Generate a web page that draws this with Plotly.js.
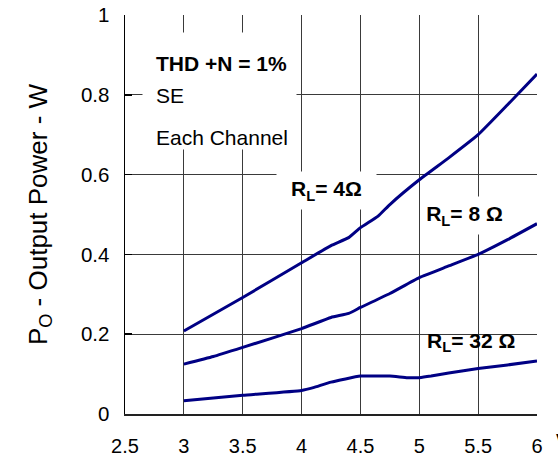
<!DOCTYPE html>
<html>
<head>
<meta charset="utf-8">
<script src="https://cdn.plot.ly/plotly-3.0.1.min.js"></script>
<style>html,body{margin:0;padding:0;background:#fff;}#chart{width:558px;height:458px;}</style>
</head>
<body>
<div id="chart"></div>
<script>
// Supply voltage (V) and output power (W) per load
var vdd4 = [3, 3.5, 4, 4.25, 4.4, 4.5, 4.65, 4.75, 5, 5.25, 5.5, 5.75, 6];
var po4  = [0.208, 0.292, 0.379, 0.422, 0.442, 0.467, 0.496, 0.525, 0.587, 0.642, 0.700, 0.775, 0.852];

var vdd8 = [3, 3.25, 3.5, 4, 4.25, 4.4, 4.5, 4.75, 5, 5.25, 5.5, 5.75, 6];
var po8  = [0.125, 0.144, 0.167, 0.214, 0.242, 0.252, 0.267, 0.302, 0.342, 0.371, 0.400, 0.437, 0.477];

var vdd32 = [3, 3.5, 4, 4.1, 4.25, 4.5, 4.75, 4.9, 5, 5.1, 5.25, 5.5, 5.75, 6];
var po32  = [0.033, 0.047, 0.059, 0.066, 0.080, 0.095, 0.095, 0.091, 0.091, 0.095, 0.103, 0.114, 0.123, 0.133];

var xTicks = [2.5, 3, 3.5, 4, 4.5, 5, 5.5, 6];
var xTickText = ['2.5', '3', '3.5', '4', '4.5', '5', '5.5', '6'];
var yTicks = [0, 0.2, 0.4, 0.6, 0.8, 1];
var yTickText = ['0', '0.2', '0.4', '0.6', '0.8', '1'];

var FONT = 'Arial, "Liberation Sans", Helvetica, sans-serif';
var lineStyle = {color: '#000084', width: 3, shape: 'spline', smoothing: 0.4};

var traces = [
  {x: vdd4, y: po4, mode: 'lines', line: lineStyle, name: 'RL=4', hoverinfo: 'skip'},
  {x: vdd8, y: po8, mode: 'lines', line: lineStyle, name: 'RL=8', hoverinfo: 'skip'},
  {x: vdd32, y: po32, mode: 'lines', line: lineStyle, name: 'RL=32', hoverinfo: 'skip'}
];

var layout = {
  width: 558, height: 458,
  margin: {l: 125, r: 21, t: 15, b: 44, pad: 0},
  paper_bgcolor: '#fff', plot_bgcolor: '#fff',
  showlegend: false,
  font: {family: FONT, color: '#000', size: 20},
  xaxis: {
    range: [2.5, 6], tickvals: xTicks, ticktext: xTickText,
    showgrid: true, gridcolor: '#3a3a3a', gridwidth: 1,
    showline: true, linecolor: '#222', linewidth: 1.5, mirror: false,
    zeroline: false, ticks: '', ticklabelstandoff: 13,
    tickfont: {family: FONT, size: 20, color: '#000'}
  },
  yaxis: {
    range: [0, 1], tickvals: yTicks, ticktext: yTickText,
    showgrid: true, gridcolor: '#3a3a3a', gridwidth: 1,
    showline: true, linecolor: '#000', linewidth: 1.5,
    zeroline: false, ticks: 'inside', ticklen: 7, tickcolor: '#000', tickwidth: 1.5,
    ticklabelstandoff: 10,
    tickfont: {family: FONT, size: 20.5, color: '#000'},
    title: {text: 'P<sub>O</sub> - Output Power - W', font: {family: FONT, size: 26, color: '#000'}, standoff: 26}
  },
  annotations: [
    {xref: 'x', yref: 'y', x: 3.303, y: 0.8095, text: ' ', showarrow: false,
     width: 151, height: 114, bgcolor: '#fff', borderpad: 1},
    {xref: 'x', yref: 'y', x: 2.745, y: 0.8797, xanchor: 'left', yanchor: 'middle',
     text: '<b>THD +N = 1%</b>', showarrow: false, font: {family: FONT, size: 21, color: '#000'}},
    {xref: 'x', yref: 'y', x: 2.745, y: 0.7995, xanchor: 'left', yanchor: 'middle',
     text: 'SE', showarrow: false, font: {family: FONT, size: 21, color: '#000'}},
    {xref: 'x', yref: 'y', x: 2.745, y: 0.6942, xanchor: 'left', yanchor: 'middle',
     text: 'Each Channel', showarrow: false, font: {family: FONT, size: 21, color: '#000'}},
    {xref: 'x', yref: 'y', x: 4.21, y: 0.56, text: '<b>R<sub>L</sub>= 4Ω</b>', showarrow: false,
     width: 97, height: 35, bgcolor: '#fff', borderpad: 1, font: {family: FONT, size: 21, color: '#000'}},
    {xref: 'x', yref: 'y', x: 5.38, y: 0.4985, text: '<b>R<sub>L</sub>= 8 Ω</b>', showarrow: false,
     width: 79, height: 35, bgcolor: '#fff', borderpad: 1, font: {family: FONT, size: 21, color: '#000'}},
    {xref: 'x', yref: 'y', x: 5.443, y: 0.18, text: '<b>R<sub>L</sub>= 32 Ω</b>', showarrow: false,
     font: {family: FONT, size: 21, color: '#000'}},
    {xref: 'paper', yref: 'paper', x: 1.041, y: -0.067, xanchor: 'left', yanchor: 'middle',
     text: '<b>V</b>', showarrow: false, font: {family: FONT, size: 18, color: '#000'}}
  ]
};

Plotly.newPlot('chart', traces, layout, {staticPlot: true, displayModeBar: false});
</script>
</body>
</html>
